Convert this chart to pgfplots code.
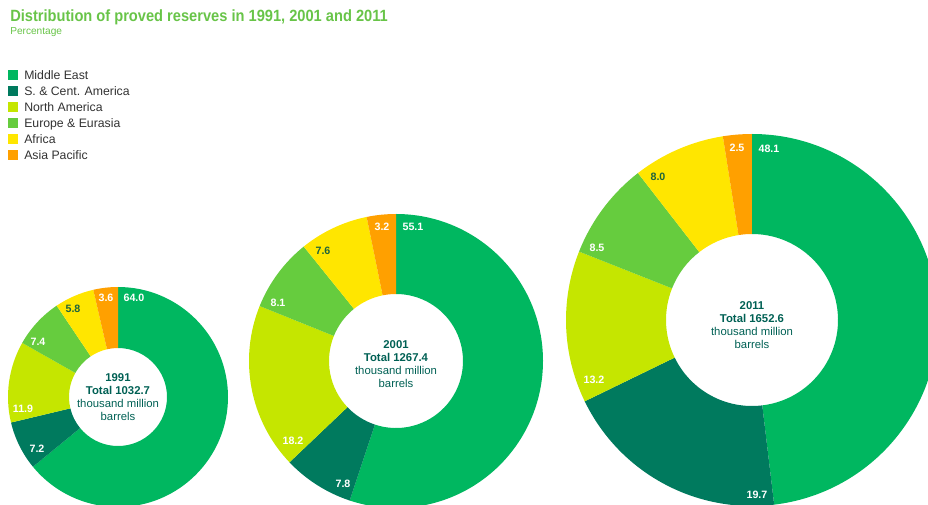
\documentclass[border=0pt]{standalone}
\usepackage{fontspec}
\setmainfont{Liberation Sans}
\newfontfamily\titlefont[FakeStretch=0.9]{Liberation Sans}
\usepackage{pgfplots}
\pgfplotsset{compat=1.18}
\usepackage{pgfplotstable}
\usetikzlibrary{calc}

\definecolor{c0}{RGB}{0,183,96}    % Middle East
\definecolor{c1}{RGB}{0,122,94}    % S. & Cent. America
\definecolor{c2}{RGB}{197,230,0}   % North America
\definecolor{c3}{RGB}{102,204,62}  % Europe & Eurasia
\definecolor{c4}{RGB}{255,230,0}   % Africa
\definecolor{c5}{RGB}{255,160,0}   % Asia Pacific
\definecolor{titlegreen}{RGB}{104,196,72}
\definecolor{ctrtext}{RGB}{0,96,84}
\definecolor{darklbl}{RGB}{30,100,60}
\definecolor{legtext}{RGB}{50,50,50}

% share (%), label position (px), label colour
\pgfplotstableread{
val  lx  ly  lc
64.0 134 298 white
7.2  37  449 white
11.9 23  409 white
7.4  38  342 white
5.8  73  309 darklbl
3.6  106 298 white
}\tabA
\pgfplotstableread{
val  lx  ly  lc
55.1 413 227 white
7.8  343 484 white
18.2 293 441 white
8.1  278 303 white
7.6  323 251 darklbl
3.2  382 227 white
}\tabB
\pgfplotstableread{
val  lx  ly  lc
48.1 769 149 white
19.7 757 495 white
13.2 594 380 white
8.5  597 248 white
8.0  658 177 darklbl
2.5  737 148 white
}\tabC

\tikzset{lbl/.style={font=\bfseries\fontsize{8}{9}\selectfont, inner sep=0pt}}

% #1 table, #2 #3 centre (px), #4 outer radius, #5 inner radius (px)
\newcommand\donut[5]{%
  \pgfmathsetmacro\Ro{#4*0.75}%
  \pgfmathsetmacro\Ri{#5*0.75}%
  \def\tot{0}%
  \pgfplotsforeachungrouped \i in {0,...,5}{%
    \pgfplotstablegetelem{\i}{val}\of#1%
    \pgfmathsetmacro\tot{\tot+\pgfplotsretval}}%
  \def\acc{90}%
  \pgfplotsforeachungrouped \i in {0,...,5}{%
    \pgfplotstablegetelem{\i}{val}\of#1\let\v\pgfplotsretval
    \pgfplotstablegetelem{\i}{lx}\of#1\let\lx\pgfplotsretval
    \pgfplotstablegetelem{\i}{ly}\of#1\let\ly\pgfplotsretval
    \pgfplotstablegetelem{\i}{lc}\of#1\let\lc\pgfplotsretval
    \pgfmathsetmacro\aend{\acc-\v/\tot*360}%
    \edef\temp{\noexpand\fill[c\i] ($(axis cs:#2,#3)+(\acc:\Ro pt)$)
      arc[start angle=\acc, end angle=\aend, radius=\Ro pt]
      -- ($(axis cs:#2,#3)+(\aend:\Ri pt)$)
      arc[start angle=\aend, end angle=\acc, radius=\Ri pt] -- cycle;
      \noexpand\node[lbl, text=\lc] at (axis cs:\lx,\ly) {\v};}%
    \temp
    \let\acc\aend
  }%
}

\begin{document}
\begin{tikzpicture}
\begin{axis}[
    hide axis, scale only axis,
    width=696pt, height=378.75pt,
    xmin=0, xmax=928, ymin=0, ymax=505,
    y dir=reverse,
]
\donut{\tabA}{118}{397}{110}{49}
\donut{\tabB}{396}{361}{147}{67}
\donut{\tabC}{752}{320}{186}{86}

\node[align=center, text=ctrtext, font=\fontsize{8.5}{9.75}\selectfont]
  at (axis cs:118,397) {\textbf{1991}\\\textbf{Total 1032.7}\\thousand million\\barrels};
\node[align=center, text=ctrtext, font=\fontsize{8.5}{9.75}\selectfont]
  at (axis cs:396,364) {\textbf{2001}\\\textbf{Total 1267.4}\\thousand million\\barrels};
\node[align=center, text=ctrtext, font=\fontsize{8.5}{9.75}\selectfont]
  at (axis cs:752,325) {\textbf{2011}\\\textbf{Total 1652.6}\\thousand million\\barrels};

% title
\node[anchor=base west, inner sep=0pt, text=titlegreen, font=\titlefont\bfseries\fontsize{12.2}{14}\selectfont]
  at (axis cs:10,22) {Distribution of proved reserves in 1991, 2001 and 2011};
\node[anchor=base west, inner sep=0pt, text=titlegreen, font=\fontsize{7.6}{9}\selectfont]
  at (axis cs:10,35) {Percentage};

% legend
\fill[c0] (axis cs:8,70) rectangle (axis cs:18,80);
\fill[c1] (axis cs:8,86) rectangle (axis cs:18,96);
\fill[c2] (axis cs:8,102) rectangle (axis cs:18,112);
\fill[c3] (axis cs:8,118) rectangle (axis cs:18,128);
\fill[c4] (axis cs:8,134) rectangle (axis cs:18,144);
\fill[c5] (axis cs:8,150) rectangle (axis cs:18,160);
\begin{scope}[every node/.style={anchor=base west, inner sep=0pt, text=legtext, font=\fontsize{9.2}{11}\selectfont}]
\node at (axis cs:24,80) {Middle East};
\node at (axis cs:24,96) {S. \& Cent. America};
\node at (axis cs:24,112) {North America};
\node at (axis cs:24,128) {Europe \& Eurasia};
\node at (axis cs:24,144) {Africa};
\node at (axis cs:24,160) {Asia Pacific};
\end{scope}
\end{axis}
\pgfresetboundingbox
\useasboundingbox (current axis.south west) rectangle (current axis.north east);
\end{tikzpicture}
\end{document}
